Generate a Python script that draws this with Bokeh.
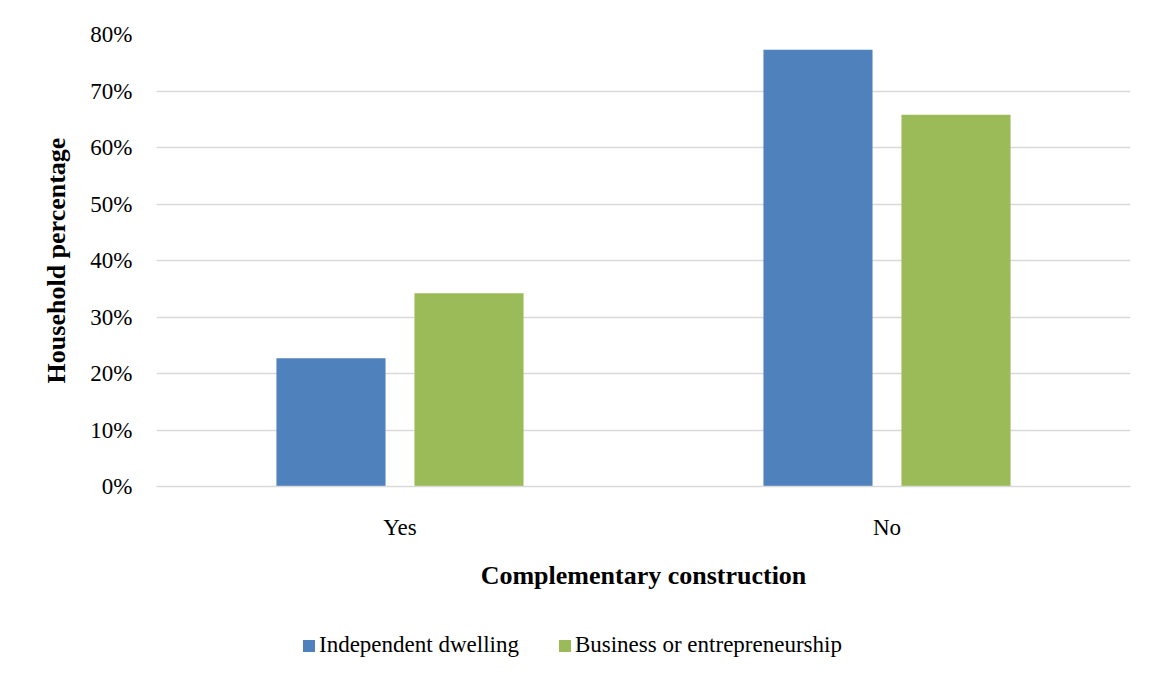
from bokeh.plotting import figure
from bokeh.layouts import column
from bokeh.models import (ColumnDataSource, FactorRange, Legend, LegendItem,
                          NumeralTickFormatter, FixedTicker, Range1d)
from bokeh.transform import dodge
from bokeh.embed import file_html
from bokeh.resources import INLINE

categories = ["Yes", "No"]
independent_dwelling = [0.227, 0.773]
business = [0.342, 0.658]
y_ticks = [0.0, 0.1, 0.2, 0.3, 0.4, 0.5, 0.6, 0.7, 0.8]

FONT = "Liberation Serif"
BLUE = "#4f81bd"
GREEN = "#9bbb59"
GRID = "#d9d9d9"

source = ColumnDataSource(dict(cat=categories, ind=independent_dwelling, bus=business))

p = figure(x_range=FactorRange(*categories, range_padding=0),
           y_range=Range1d(0, 0.8),
           frame_width=974, frame_height=452,
           min_border_left=156, min_border_top=34, min_border_right=6, min_border_bottom=0,
           output_backend="svg", toolbar_location=None)

r1 = p.vbar(x=dodge("cat", -0.1417, range=p.x_range), top="ind", width=0.224,
            source=source, fill_color=BLUE, line_color=None)
r2 = p.vbar(x=dodge("cat", 0.1417, range=p.x_range), top="bus", width=0.224,
            source=source, fill_color=GREEN, line_color=None)

p.outline_line_color = None
p.xgrid.grid_line_color = None
p.ygrid.grid_line_color = GRID
p.ygrid.grid_line_width = 1.5
p.ygrid.ticker = FixedTicker(ticks=y_ticks)

p.yaxis.ticker = FixedTicker(ticks=y_ticks)
p.yaxis.formatter = NumeralTickFormatter(format="0%")
p.yaxis.axis_line_color = None
p.yaxis.major_tick_line_color = None
p.yaxis.minor_tick_line_color = None
p.yaxis.major_label_standoff = 18
p.yaxis.major_label_text_font = FONT
p.yaxis.major_label_text_font_size = "23px"
p.yaxis.major_label_text_color = "#000000"
p.yaxis.axis_label = "Household percentage"
p.yaxis.axis_label_text_font = FONT
p.yaxis.axis_label_text_font_size = "26px"
p.yaxis.axis_label_text_font_style = "bold"
p.yaxis.axis_label_text_color = "#000000"
p.yaxis.axis_label_standoff = 16

p.xaxis.axis_line_color = GRID
p.xaxis.axis_line_width = 1.5
p.xaxis.major_tick_line_color = None
p.xaxis.minor_tick_line_color = None
p.xaxis.major_label_standoff = 22
p.xaxis.major_label_text_font = FONT
p.xaxis.major_label_text_font_size = "23px"
p.xaxis.major_label_text_color = "#000000"
p.xaxis.axis_label = "Complementary construction"
p.xaxis.axis_label_text_font = FONT
p.xaxis.axis_label_text_font_size = "26px"
p.xaxis.axis_label_text_font_style = "bold"
p.xaxis.axis_label_text_color = "#000000"
p.xaxis.axis_label_standoff = 18

# Legend strip: a second, axis-less figure whose bars lie outside its y-range
lg = figure(x_range=FactorRange(*categories, range_padding=0),
            y_range=Range1d(2, 3),
            width=1136, height=80,
            min_border_left=0, min_border_right=0, min_border_top=0, min_border_bottom=0,
            x_axis_location=None, y_axis_location=None,
            output_backend="svg", toolbar_location=None)
lg.grid.grid_line_color = None
lg.outline_line_color = None
g1 = lg.vbar(x=dodge("cat", -0.1417, range=lg.x_range), top="ind", width=0.224,
             source=source, fill_color=BLUE, line_color=None)
g2 = lg.vbar(x=dodge("cat", 0.1417, range=lg.x_range), top="bus", width=0.224,
             source=source, fill_color=GREEN, line_color=None)

legend = Legend(items=[LegendItem(label="Independent dwelling", renderers=[g1]),
                       LegendItem(label="Business or entrepreneurship", renderers=[g2])],
                orientation="horizontal", location=(145, 14),
                glyph_width=15, glyph_height=15, label_standoff=3, spacing=38,
                padding=0, margin=0, border_line_color=None, background_fill_alpha=0,
                label_text_font=FONT, label_text_font_size="23px", label_text_color="#000000")
lg.add_layout(legend, "center")

layout = column(p, lg, spacing=0)

open("out.html", "w").write(file_html(layout, INLINE))
